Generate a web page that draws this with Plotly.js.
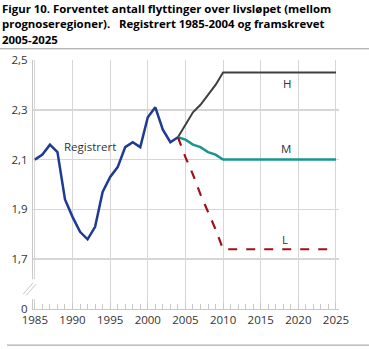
<!DOCTYPE html>
<html><head><meta charset="utf-8">
<script src="https://cdn.plot.ly/plotly-3.0.1.min.js"></script>
<style>html,body{margin:0;padding:0;background:#fff}#c{width:369px;height:349px}</style>
</head><body><div id="c"></div>
<script>
// Registered 1985-2004
const yearsReg = [1985,1986,1987,1988,1989,1990,1991,1992,1993,1994,1995,1996,1997,1998,1999,2000,2001,2002,2003,2004];
const valsReg = [2.10,2.12,2.16,2.13,1.94,1.87,1.81,1.78,1.83,1.97,2.03,2.07,2.15,2.17,2.15,2.27,2.31,2.22,2.17,2.19];
// Projections 2004-2025
const yearsProj = [2004,2005,2006,2007,2008,2009,2010,2015,2020,2025];
const valsH = [2.19,2.24,2.29,2.32,2.36,2.40,2.45,2.45,2.45,2.45];
const valsM = [2.19,2.18,2.16,2.15,2.13,2.12,2.10,2.10,2.10,2.10];
const valsL = [2.19,2.11,2.04,1.96,1.89,1.82,1.74,1.74,1.74,1.74];
// Axis ticks (y axis broken: bottom value shown as 0)
const yTickVals = [1.5,1.7,1.9,2.1,2.3,2.5];
const yTickText = ["0","1,7","1,9","2,1","2,3","2,5"];
const xTickVals = [1985,1990,1995,2000,2005,2010,2015,2020,2025];
const titleLines = [
  "Figur 10. Forventet antall flyttinger over livsløpet (mellom",
  "prognoseregioner).\u00a0\u00a0 Registrert 1985-2004 og framskrevet",
  "2005-2025"
];
const seriesLabels = [
  {text:"Registrert", x:1992.3, y:2.152},
  {text:"H", x:2018.5, y:2.407},
  {text:"M", x:2018.4, y:2.143},
  {text:"L", x:2018.2, y:1.78}
];

const traces = [
  {x:yearsReg, y:valsReg, mode:"lines", line:{color:"#1f3a93", width:2.5}, hoverinfo:"skip"},
  {x:yearsProj, y:valsH, mode:"lines", line:{color:"#3f3f3f", width:2}, hoverinfo:"skip"},
  {x:yearsProj, y:valsM, mode:"lines", line:{color:"#17978f", width:2.5}, hoverinfo:"skip"},
  {x:yearsProj, y:valsL, mode:"lines", line:{color:"#a01018", width:2.2, dash:"dash"}, hoverinfo:"skip"}
];

const annotations = seriesLabels.map(l => ({
  x:l.x, y:l.y, xref:"x", yref:"y", text:l.text, showarrow:false,
  font:{family:"Open Sans", size:11.5, color:"#333"}
}));
const titleY = [1.2088, 1.1446, 1.0823];
titleLines.forEach((t, i) => annotations.push({
  xref:"paper", yref:"paper", x:-0.104, y:titleY[i], xanchor:"left", yanchor:"middle",
  text:t, showarrow:false, borderpad:0,
  font:{family:"Open Sans", size:11.4, color:"#000", weight:"bold"}
}));

const layout = {
  width:369, height:349,
  margin:{l:33, r:30, t:60, b:40},
  paper_bgcolor:"#fff", plot_bgcolor:"#fff",
  showlegend:false,
  font:{family:"Open Sans", size:11, color:"#333"},
  xaxis:{
    range:[1984.75, 2025.4], tickvals:xTickVals, ticktext:xTickVals.map(String),
    showgrid:true, gridcolor:"#d6d6d6", gridwidth:1,
    showline:true, linecolor:"#c8c8c8", linewidth:1,
    ticks:"inside", ticklen:6, tickcolor:"#c8c8c8",
    minor:{dtick:1, tick0:1985, ticks:"inside", ticklen:5, tickcolor:"#c8c8c8", showgrid:false},
    zeroline:false, tickfont:{family:"Open Sans", size:11.5, color:"#333"}
  },
  yaxis:{
    range:[1.5, 2.5], tickvals:yTickVals, ticktext:yTickText,
    showgrid:true, gridcolor:"#d6d6d6", gridwidth:1.5,
    showline:true, linecolor:"#c8c8c8", linewidth:1,
    ticks:"", zeroline:false, ticklabelstandoff:2,
    tickfont:{family:"Open Sans", size:11.5, color:"#333"}
  },
  annotations:annotations,
  shapes:[
    {type:"line", xref:"paper", yref:"paper", x0:-0.108, x1:1.1, y0:1.045, y1:1.045, line:{color:"#999", width:1}},
    {type:"line", xref:"paper", yref:"paper", x0:-0.085, x1:1.1, y0:-0.145, y1:-0.145, line:{color:"#999", width:1}},
    {type:"rect", xref:"paper", yref:"y", x0:-0.012, x1:0.008, y0:1.54, y1:1.62, fillcolor:"#fff", line:{width:0}, layer:"above"},
    {type:"line", xref:"paper", yref:"y", x0:-0.032, x1:0.0, y0:1.56, y1:1.605, line:{color:"#c8c8c8", width:1}, layer:"above"},
    {type:"line", xref:"paper", yref:"y", x0:-0.022, x1:0.01, y0:1.555, y1:1.60, line:{color:"#c8c8c8", width:1}, layer:"above"}
  ]
};
Plotly.newPlot("c", traces, layout, {staticPlot:true, displayModeBar:false});
</script></body></html>
